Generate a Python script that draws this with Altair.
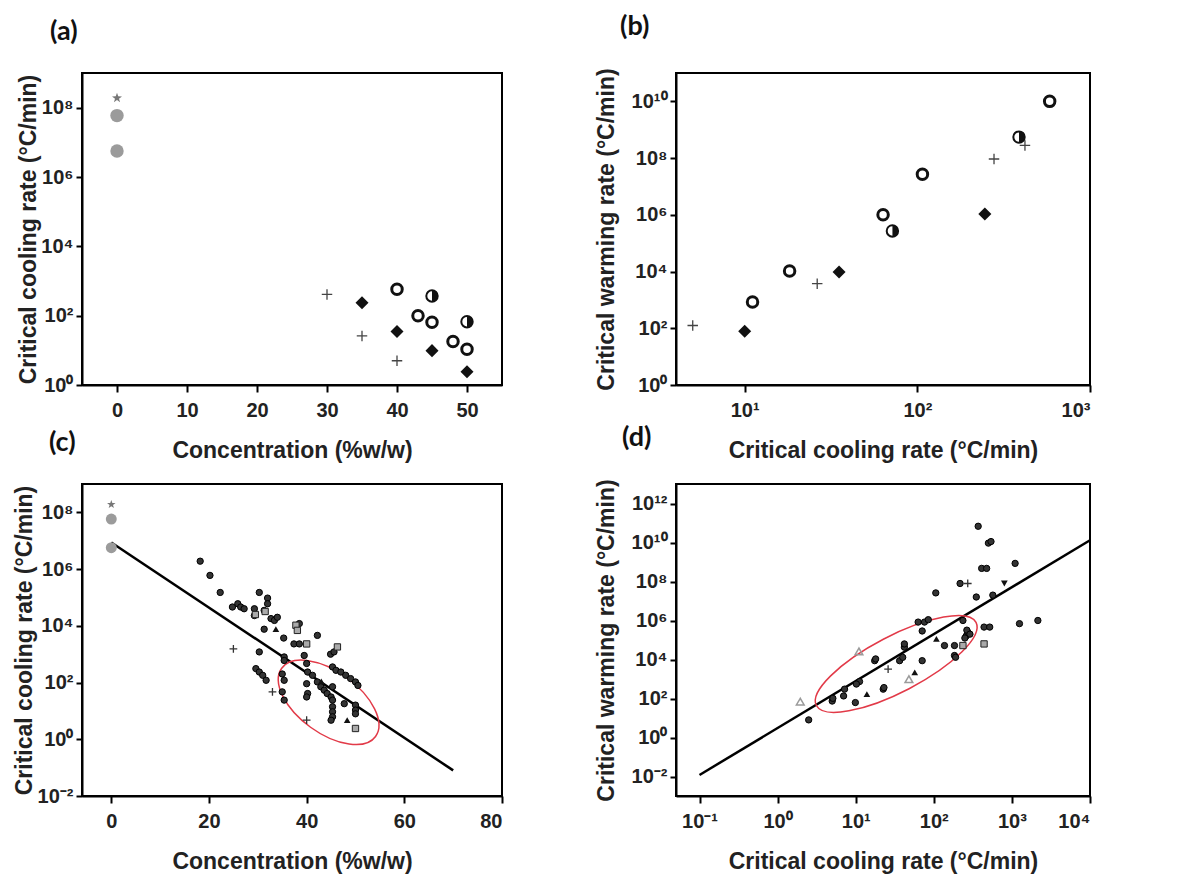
import altair as alt
import pandas as pd

FONT = "Liberation Sans"
BLACK = "#111111"
GRAY = "#9b9b9b"
RED = "#e23a48"

# ---------------- data: panel (a) ----------------
A_STAR_X = [0]
A_STAR_Y = [1.9e8]
A_GCIRC_X = [0, 0]
A_GCIRC_Y = [5.9e7, 5.6e6]
A_PLUS_X = [30, 35, 40]
A_PLUS_Y = [410, 26, 5.0]
A_DIAM_X = [35, 40, 45, 50]
A_DIAM_Y = [237, 35, 9.8, 2.4]
A_OPEN_X = [40, 43, 45, 48, 50]
A_OPEN_Y = [575, 100, 65, 18, 10.7]
A_HALF_X = [45, 50]
A_HALF_Y = [370, 67]

# ---------------- data: panel (b) ----------------
B_PLUS_X = [5.0, 26.3, 278, 420]
B_PLUS_Y = [125, 3730, 9.3e7, 2.8e8]
B_DIAM_X = [10, 35.2, 246]
B_DIAM_Y = [79, 9700, 1.07e6]
B_OPEN_X = [11.1, 18.2, 63.3, 107, 584]
B_OPEN_Y = [837, 1.05e4, 1.0e6, 2.7e7, 1.0e10]
B_HALF_X = [71.7, 388]
B_HALF_Y = [2.7e5, 5.5e8]

# ---------------- data: panel (c) ----------------
C_STAR_X = [0]
C_STAR_Y = [1.9e8]
C_GCIRC_X = [0, 0]
C_GCIRC_Y = [5.8e7, 5.7e6]
C_DOT_X = [18.2, 20.2, 22.3, 24.8, 25.9, 26.5, 27.2, 29.3, 29.3, 30.3, 30.3, 31.3, 32, 32,
           31.3, 32.7, 33.4, 34, 35.3, 35.4, 35.4, 37.4, 38.5, 38.5, 42.2, 39.5, 44.9, 45.6,
           29.6, 30.3, 31, 31.7, 35, 35.4, 35, 35.4, 40, 40.2, 40, 40.2, 40,
           41.2, 42.2, 42.9, 43.6, 44.2, 45, 45.3, 45.3, 45.3, 45.3, 45.3, 45.3, 45,
           46, 47, 48, 49, 50, 50.5, 47.7, 50, 50, 50]
C_DOT_Y = [1.9e6, 6e5, 1.5e5, 4.6e4, 6e4, 4.6e4, 4e4, 4e4, 2.3e4, 1.5e5, 1200, 3.5e4, 9.5e4, 6e4,
           7.6e3, 1.8e4, 1.55e4, 2e4, 3700, 800, 600, 2300, 2300, 1.2e4, 4600, 900, 1000, 1200,
           310, 235, 180, 120, 200, 120, 47, 24, 470, 235, 91, 41, 31,
           180, 105, 71, 54, 41, 31, 355, 71, 24, 14, 9.3, 6.2, 4.7,
           270, 235, 180, 138, 105, 79, 18, 16, 10.7, 7.9]
C_SQ_X = [29.5, 31.5, 37.8, 38.1, 40, 46.3, 50]
C_SQ_Y = [2.5e4, 3.2e4, 1.05e4, 6.9e3, 2.3e3, 1.8e3, 2.4]
C_TRI_X = [33.7, 48.3, 43]
C_TRI_Y = [7.6e3, 4.7, 110]
C_PLUS_X = [25, 33, 40]
C_PLUS_Y = [1550, 47, 4.7]
C_FIT_X = [0, 70]
C_FIT_Y = [8.7e6, 0.08]
C_ELL_X = [44.5]
C_ELL_Y = [20]

# ---------------- data: panel (d) ----------------
D_DOT_X = [2.5, 5, 5.1, 7, 7.2, 9.9, 11.2, 10.2, 17.5, 18, 22.5, 23, 36.5, 40, 42, 42, 63, 71,
           76, 85, 71, 106, 137, 184, 184, 190, 217, 236, 260, 272, 265, 290, 250, 370, 410,
           475, 500, 540, 440, 520, 570, 1100, 1250, 2150, 350]
D_DOT_Y = [8, 74, 102, 135, 302, 62, 740, 550, 8700, 1.07e4, 302, 363, 8700, 1.29e4, 4.3e4,
           6.3e4, 8.3e5, 2.9e5, 8.3e5, 1.1e6, 8700, 2.6e7, 5.2e4, 5.2e4, 1.6e4, 1.3e4, 7.9e7,
           1e6, 1.6e5, 2.5e5, 3.2e5, 2e5, 1.26e5, 6.8e10, 4.7e8, 4.7e8, 9.3e9, 1.12e10, 4.6e5,
           4.6e5, 2e7, 8.5e8, 6.9e5, 1e6, 1.6e7]
D_TRI_X = [13.9, 57, 108]
D_TRI_Y = [166, 2200, 1.15e5]
D_GTRI_X = [1.95, 11, 48]
D_GTRI_Y = [69, 2.6e4, 980]
D_PLUS_X = [26, 272]
D_PLUS_Y = [3200, 7.9e7]
D_SQ_X = [440, 236]
D_SQ_Y = [6.3e4, 5.2e4]
D_TDN_X = [800]
D_TDN_Y = [7.9e7]
D_FIT_X = [0.1, 1e4]
D_FIT_Y = [0.012, 1.3e10]
D_ELL_X = [33]
D_ELL_Y = [5900]

# ---------------- ticks ----------------
A_XTICKS = [0, 10, 20, 30, 40, 50]
A_YTICKS = [1, 1e2, 1e4, 1e6, 1e8]
A_YLABELS = ["10⁰", "10²", "10⁴", "10⁶", "10⁸"]
B_XTICKS = [10, 100, 1000]
B_XLABELS = ["10¹", "10²", "10³"]
B_YTICKS = [1, 1e2, 1e4, 1e6, 1e8, 1e10]
B_YLABELS = ["10⁰", "10²", "10⁴", "10⁶", "10⁸", "10¹⁰"]
C_XTICKS = [0, 20, 40, 60, 80]
C_YTICKS = [1e-2, 1, 1e2, 1e4, 1e6, 1e8]
C_YLABELS = ["10⁻²", "10⁰", "10²", "10⁴", "10⁶", "10⁸"]
D_XTICKS = [0.1, 1, 10, 100, 1000, 10000]
D_XLABELS = ["10⁻¹", "10⁰", "10¹", "10²", "10³", "10⁴"]
D_YTICKS = [1e-2, 1, 1e2, 1e4, 1e6, 1e8, 1e10, 1e12]
D_YLABELS = ["10⁻²", "10⁰", "10²", "10⁴", "10⁶", "10⁸", "10¹⁰", "10¹²"]

CONC = "Concentration (%w/w)"
COOL = "Critical cooling rate (°C/min)"
WARM = "Critical warming rate (°C/min)"

W1, W2, H = 420, 414, 312

PLUS = "M-1,0L1,0M0,-1L0,1"
STAR = ("M0,-1L0.235,-0.324L0.951,-0.309L0.38,0.124L0.588,0.809L0,0.4"
        "L-0.588,0.809L-0.38,0.124L-0.951,-0.309L-0.235,-0.324Z")
RIGHT_HALF = "M0,-1A1,1,0,0,1,0,1Z"


def label_expr(values, labels):
    parts = [f"datum.value == {float(v)!r} ? '{l}'" for v, l in zip(values, labels)]
    return " : ".join(parts) + " : ''"


def ellipse_path(ratio):
    return f"M-1,0A1,{ratio},0,1,0,1,0A1,{ratio},0,1,0,-1,0Z"


def xaxis(values, labels, title, width):
    kw = dict(values=values, title=title, titleX=width / 2, titleY=65,
              titleBaseline="middle", tickSize=7, labelPadding=8)
    if labels is not None:
        kw["labelExpr"] = label_expr(values, labels)
    return alt.Axis(**kw)


def yaxis(values, labels, title, tx):
    return alt.Axis(values=values, labelExpr=label_expr(values, labels), title=title,
                    titleX=tx, titleY=H / 2, titleBaseline="middle", tickSize=6,
                    labelPadding=3)


def pts(xs, ys, xe, ye, **kw):
    kw.setdefault("opacity", 1)
    return alt.Chart(pd.DataFrame({"x": xs, "y": ys})).mark_point(**kw).encode(x=xe, y=ye)


def line(xs, ys, xe, ye):
    return alt.Chart(pd.DataFrame({"x": xs, "y": ys})).mark_line(
        color="black", strokeWidth=2.5).encode(x=xe, y=ye)


def title(t, dx):
    return alt.TitleParams(t, anchor="start", frame="group", dx=dx, offset=27,
                           font="Lato", fontSize=27, fontWeight="bold", color="#111")


# ---------------- panel a ----------------
xa = alt.X("x:Q", scale=alt.Scale(domain=[-5, 55], nice=False, zero=False),
           axis=xaxis(A_XTICKS, None, CONC, W1))
ya = alt.Y("y:Q", scale=alt.Scale(type="log", domain=[1, 1e9], nice=False),
           axis=yaxis(A_YTICKS, A_YLABELS, COOL, -54))
pa = alt.layer(
    pts(A_STAR_X, A_STAR_Y, xa, ya, shape=STAR, size=110, filled=True, fill="#777", strokeWidth=0),
    pts(A_GCIRC_X, A_GCIRC_Y, xa, ya, shape="circle", size=180, filled=True, fill=GRAY, strokeWidth=0),
    pts(A_PLUS_X, A_PLUS_Y, xa, ya, shape=PLUS, size=110, filled=False, stroke="#444", strokeWidth=1.3),
    pts(A_DIAM_X, A_DIAM_Y, xa, ya, shape="diamond", size=170, filled=True, fill=BLACK, strokeWidth=0),
    pts(A_OPEN_X, A_OPEN_Y, xa, ya, shape="circle", size=110, filled=False, stroke=BLACK, strokeWidth=3),
    pts(A_HALF_X, A_HALF_Y, xa, ya, shape="circle", size=130, filled=True, fill="white", stroke=BLACK, strokeWidth=2),
    pts(A_HALF_X, A_HALF_Y, xa, ya, shape=RIGHT_HALF, size=130, filled=True, fill=BLACK, strokeWidth=0),
).properties(width=W1, height=H, title=title("(a)", -32))

# ---------------- panel b ----------------
xb = alt.X("x:Q", scale=alt.Scale(type="log", domain=[4, 1000], nice=False),
           axis=xaxis(B_XTICKS, B_XLABELS, COOL, W2))
yb = alt.Y("y:Q", scale=alt.Scale(type="log", domain=[1, 1e11], nice=False),
           axis=yaxis(B_YTICKS, B_YLABELS, WARM, -70))
pb = alt.layer(
    pts(B_PLUS_X, B_PLUS_Y, xb, yb, shape=PLUS, size=110, filled=False, stroke="#444", strokeWidth=1.3),
    pts(B_DIAM_X, B_DIAM_Y, xb, yb, shape="diamond", size=170, filled=True, fill=BLACK, strokeWidth=0),
    pts(B_OPEN_X, B_OPEN_Y, xb, yb, shape="circle", size=110, filled=False, stroke=BLACK, strokeWidth=3),
    pts(B_HALF_X, B_HALF_Y, xb, yb, shape="circle", size=130, filled=True, fill="white", stroke=BLACK, strokeWidth=2),
    pts(B_HALF_X, B_HALF_Y, xb, yb, shape=RIGHT_HALF, size=130, filled=True, fill=BLACK, strokeWidth=0),
).properties(width=W2, height=H, title=title("(b)", -56))

# ---------------- panel c ----------------
xc = alt.X("x:Q", scale=alt.Scale(domain=[-6, 80], nice=False, zero=False),
           axis=xaxis(C_XTICKS, None, CONC, W1))
yc = alt.Y("y:Q", scale=alt.Scale(type="log", domain=[1e-2, 1e9], nice=False),
           axis=yaxis(C_YTICKS, C_YLABELS, COOL, -58))
pc = alt.layer(
    line(C_FIT_X, C_FIT_Y, xc, yc),
    pts(C_ELL_X, C_ELL_Y, xc, yc, shape=ellipse_path(0.53), size=116 ** 2, angle=36,
        filled=False, stroke=RED, strokeWidth=1.5),
    pts(C_STAR_X, C_STAR_Y, xc, yc, shape=STAR, size=80, filled=True, fill="#777", strokeWidth=0),
    pts(C_GCIRC_X, C_GCIRC_Y, xc, yc, shape="circle", size=120, filled=True, fill=GRAY, strokeWidth=0),
    pts(C_DOT_X, C_DOT_Y, xc, yc, shape="circle", size=40, filled=True, fill="#333", stroke="#000", strokeWidth=1),
    pts(C_SQ_X, C_SQ_Y, xc, yc, shape="square", size=40, filled=True, fill="#aaa", stroke="#222", strokeWidth=1),
    pts(C_TRI_X, C_TRI_Y, xc, yc, shape="triangle-up", size=45, filled=True, fill="#111", strokeWidth=0),
    pts(C_PLUS_X, C_PLUS_Y, xc, yc, shape=PLUS, size=60, filled=False, stroke="#333", strokeWidth=1.3),
).properties(width=W1, height=H, title=title("(c)", -33))

# ---------------- panel d ----------------
xd = alt.X("x:Q", scale=alt.Scale(type="log", domain=[0.05, 1e4], nice=False),
           axis=xaxis(D_XTICKS, D_XLABELS, COOL, W2))
yd = alt.Y("y:Q", scale=alt.Scale(type="log", domain=[1e-3, 1e13], nice=False),
           axis=yaxis(D_YTICKS, D_YLABELS, WARM, -70))
pd_ = alt.layer(
    line(D_FIT_X, D_FIT_Y, xd, yd),
    pts(D_ELL_X, D_ELL_Y, xd, yd, shape=ellipse_path(0.31), size=180 ** 2, angle=332.5,
        filled=False, stroke=RED, strokeWidth=1.5),
    pts(D_DOT_X, D_DOT_Y, xd, yd, shape="circle", size=40, filled=True, fill="#333", stroke="#000", strokeWidth=1),
    pts(D_TRI_X, D_TRI_Y, xd, yd, shape="triangle-up", size=45, filled=True, fill="#111", strokeWidth=0),
    pts(D_GTRI_X, D_GTRI_Y, xd, yd, shape="triangle-up", size=60, filled=False, stroke=GRAY, strokeWidth=1.5),
    pts(D_PLUS_X, D_PLUS_Y, xd, yd, shape=PLUS, size=60, filled=False, stroke="#333", strokeWidth=1.3),
    pts(D_SQ_X, D_SQ_Y, xd, yd, shape="square", size=40, filled=True, fill="#aaa", stroke="#222", strokeWidth=1),
    pts(D_TDN_X, D_TDN_Y, xd, yd, shape="triangle-down", size=45, filled=True, fill="#111", strokeWidth=0),
).properties(width=W2, height=H, title=title("(d)", -54))

chart = alt.concat(
    pa, pb, pc, pd_, columns=2, spacing={"row": 99, "column": 174}, bounds="flush"
).properties(
    padding={"left": 4, "top": 3, "right": 5, "bottom": 3}
).configure_view(
    stroke="black", strokeWidth=2
).configure_axis(
    grid=False, labelFont=FONT, labelFontSize=20, labelFontWeight="bold", labelColor="#222",
    titleFont=FONT, titleFontSize=23, titleFontWeight="bold", titleColor="#222",
    tickColor="black", tickWidth=2, domainColor="black", domainWidth=2
)

chart.save("out.html", embed_options={"renderer": "svg", "actions": False})
